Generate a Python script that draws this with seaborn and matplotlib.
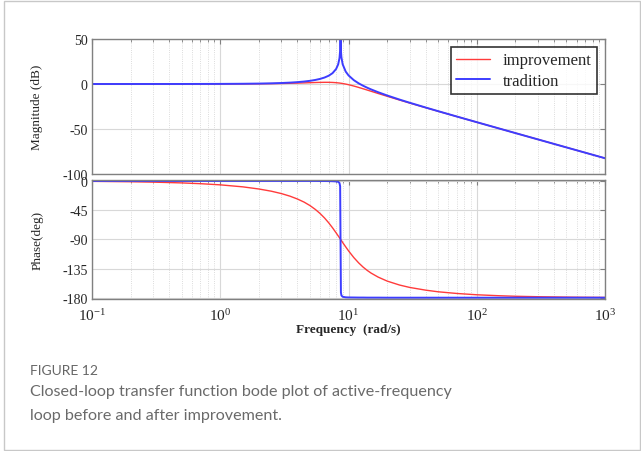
import matplotlib
matplotlib.use("Agg")
import matplotlib.pyplot as plt
import matplotlib.ticker as mticker
from matplotlib.patches import Rectangle
import seaborn as sns

# Values
freq_imp = [0.1, 0.2, 0.3, 0.5, 0.7, 1, 1.5, 2, 2.5, 3, 3.5, 4, 4.5, 5, 5.5, 6, 6.5, 7,
            7.5, 8, 8.5, 9, 9.5, 10, 11, 12, 13, 14, 15, 17, 20, 25, 30, 40, 50, 70,
            100, 150, 200, 300, 500, 700, 1000]
mag_imp = [0.0, 0.0, 0.01, 0.02, 0.03, 0.07, 0.15, 0.27, 0.42, 0.6, 0.8, 1.01, 1.24, 1.46,
           1.66, 1.81, 1.89, 1.88, 1.74, 1.47, 1.07, 0.55, -0.07, -0.76, -2.26, -3.81,
           -5.31, -6.74, -8.08, -10.52, -13.64, -17.82, -21.16, -26.34, -30.3, -36.22,
           -42.46, -49.53, -54.53, -61.58, -70.46, -76.3, -82.5]
phase_imp = [-0.6, -1.2, -1.8, -3.0, -4.2, -6.0, -9.1, -12.4, -15.8, -19.5, -23.5, -27.9,
             -32.6, -37.9, -43.8, -50.2, -57.1, -64.5, -72.2, -80.0, -87.6, -94.9, -101.6,
             -107.8, -118.2, -126.4, -132.9, -138.0, -142.1, -148.2, -154.4, -160.5,
             -164.2, -168.4, -170.9, -173.5, -175.5, -177.0, -177.8, -178.5, -179.1,
             -179.4, -179.6]

freq_trad = [0.1, 0.2, 0.3, 0.5, 0.7, 1, 1.5, 2, 2.5, 3, 3.5, 4, 4.5, 5, 5.5, 6, 6.5, 7,
             7.5, 8, 8.3, 8.5, 8.6, 8.66, 8.72, 8.8, 9, 9.5, 10, 11, 12, 13, 14, 15, 17,
             20, 25, 30, 40, 50, 70, 100, 150, 200, 300, 500, 700, 1000]
mag_trad = [0.0, 0.01, 0.01, 0.03, 0.06, 0.12, 0.27, 0.48, 0.76, 1.11, 1.55, 2.08, 2.73,
            3.52, 4.49, 5.68, 7.2, 9.2, 12.04, 16.68, 21.79, 28.73, 37.2, 60.0, 37.1, 29.7,
            21.9, 13.83, 9.54, 4.25, 0.72, -1.96, -4.16, -6.02, -9.11, -12.74, -17.31,
            -20.83, -26.16, -30.19, -36.17, -42.43, -49.51, -54.53, -61.58, -70.46,
            -76.3, -82.5]
phase_trad = [0.0, 0.0, 0.0, 0.0, 0.0, 0.0, 0.0, 0.0, 0.0, 0.0, 0.0, 0.0, 0.0, 0.0, 0.0,
              -0.1, -0.1, -0.2, -0.4, -0.7, -1.3, -3.1, -8.2, -90.0, -171.8, -176.5,
              -178.6, -179.4, -179.6, -179.7, -179.8, -179.8, -179.9, -179.9, -179.9,
              -180.0, -180.0, -180.0, -180.0, -180.0, -180.0, -180.0, -180.0, -180.0,
              -180.0, -180.0, -180.0, -180.0]

mag_ticks = [-100, -50, 0, 50]
phase_ticks = [-180, -135, -90, -45, 0]

sns.set_style("white")
plt.rcParams['font.family'] = ['Liberation Serif', 'DejaVu Serif']
plt.rcParams['mathtext.fontset'] = 'stix'
plt.rcParams['axes.unicode_minus'] = False

red = '#ff3b3b'
blue = '#3d3dff'
spine_col = '#808080'

fig = plt.figure(figsize=(6.41, 4.52), dpi=100)
ax_mag = fig.add_axes([0.1435, 0.6128, 0.8005, 0.2987])
ax_ph = fig.add_axes([0.1435, 0.3363, 0.8005, 0.2633])

sns.lineplot(x=freq_imp, y=mag_imp, ax=ax_mag, color=red, linewidth=1.0,
             label='improvement', sort=False)
sns.lineplot(x=freq_trad, y=mag_trad, ax=ax_mag, color=blue, linewidth=1.4,
             label='tradition', sort=False)
sns.lineplot(x=freq_imp, y=phase_imp, ax=ax_ph, color=red, linewidth=1.0, sort=False)
sns.lineplot(x=freq_trad, y=phase_trad, ax=ax_ph, color=blue, linewidth=1.4, sort=False)

for ax in (ax_mag, ax_ph):
    ax.set_xscale('log')
    ax.set_xlim(0.1, 1000)
    ax.xaxis.set_major_locator(mticker.LogLocator(base=10))
    ax.xaxis.set_minor_locator(mticker.LogLocator(base=10, subs=range(2, 10)))
    ax.grid(True, which='major', color='#d8d8d8', linewidth=0.8, linestyle='-')
    ax.grid(True, which='minor', axis='x', color='#d0d0d0', linewidth=0.6, linestyle=':')
    ax.tick_params(which='both', direction='in', top=True, right=True, color=spine_col,
                   labelsize=10, pad=3)
    ax.tick_params(axis='x', labelsize=11, pad=6)
    ax.tick_params(which='major', length=3.5, width=0.8)
    ax.tick_params(which='minor', length=2, width=0.6)
    for s in ax.spines.values():
        s.set_color(spine_col)
        s.set_linewidth(1.0)
    ax.set_xlabel('')

ax_mag.set_ylim(-100, 50)
ax_mag.set_yticks(mag_ticks)
ax_mag.tick_params(axis='x', which='both', labelbottom=False)
ax_mag.set_ylabel('Magnitude (dB)', fontsize=9.5)
ax_mag.yaxis.set_label_coords(-0.095, 0.5)

ax_ph.set_ylim(-182, 1.5)
ax_ph.set_yticks(phase_ticks)
ax_ph.set_ylabel('Phase(deg)', fontsize=9.5)
ax_ph.yaxis.set_label_coords(-0.095, 0.5)
ax_ph.set_xlabel('Frequency  (rad/s)', fontsize=9.5, fontweight='bold', labelpad=0)

leg = ax_mag.legend(loc='upper right', fontsize=12, frameon=True, fancybox=False,
                    edgecolor='black', handlelength=2.0, borderpad=0.3,
                    labelspacing=0.25, borderaxespad=0.5)
leg.get_frame().set_linewidth(1.2)

# outer frame and caption
fig.patches.append(Rectangle((4 / 641, 1 / 452), 636 / 641, 449 / 452, transform=fig.transFigure,
                             fill=False, edgecolor='#c8c8c8', linewidth=1.0))
fig.text(0.0468, 0.1704, 'FIGURE 12', fontsize=10, color='#666666', family='Lato',
         va='baseline')
fig.text(0.0468, 0.1239, 'Closed-loop transfer function bode plot of active-frequency',
         fontsize=11.6, color='#6a6a6a', family='Lato', va='baseline')
fig.text(0.0468, 0.0708, 'loop before and after improvement.',
         fontsize=11.6, color='#6a6a6a', family='Lato', va='baseline')

fig.savefig('out.png', dpi=100)
